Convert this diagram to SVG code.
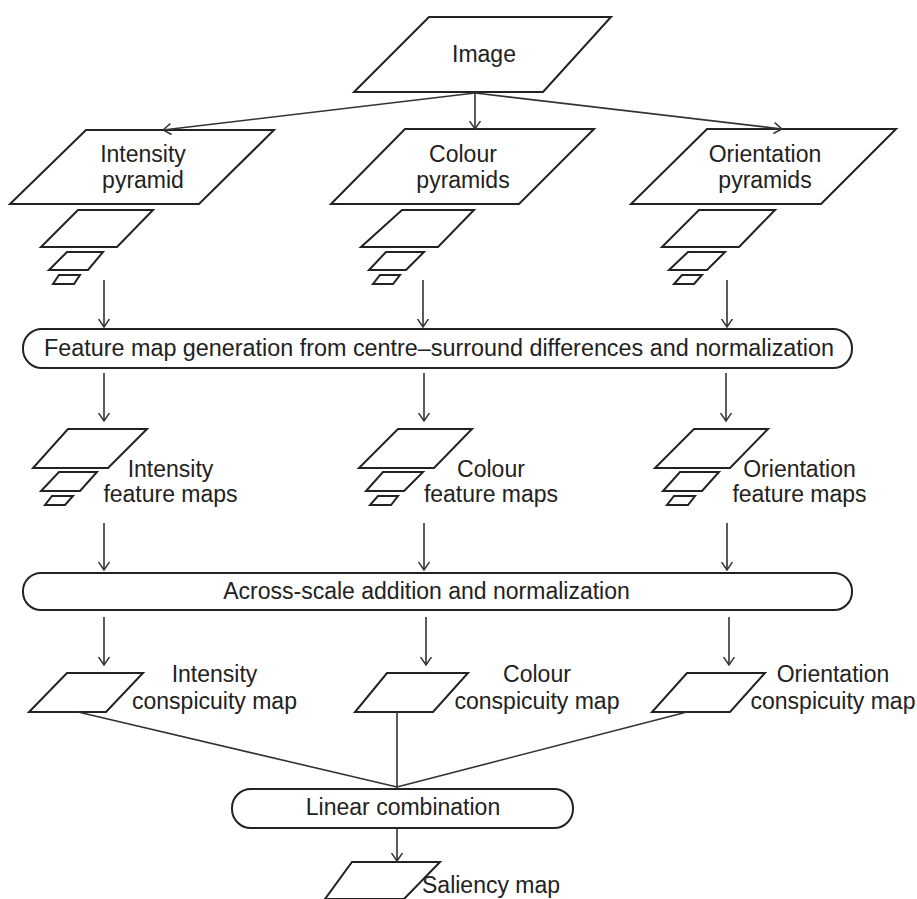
<svg xmlns="http://www.w3.org/2000/svg" width="917" height="899" viewBox="0 0 917 899">
<style>
.shape{fill:none;stroke:#222;stroke-width:2;stroke-linejoin:miter}
.edge{fill:none;stroke:#333;stroke-width:1.6}
.t{font-family:"Liberation Sans",Arial,sans-serif;font-size:23px;fill:#222}
.m{text-anchor:middle}
</style>
<defs>
<marker id="ah" viewBox="0 0 9 12" refX="8.5" refY="6" markerWidth="9" markerHeight="12" markerUnits="userSpaceOnUse" orient="auto">
<path d="M0.5,0.5 L8.5,6 L0.5,11.5" fill="none" stroke="#333" stroke-width="1.5"/>
</marker>
</defs>
<rect width="917" height="899" fill="#fff"/>

<g id="image">
<polygon class="shape" points="429,17 611,17 543,92 354,92"/>
<text class="t m" x="484" y="62">Image</text>
</g>

<g id="intensity-pyramid">
<polygon class="shape" points="86,130 274,130 199,204 10,204"/>
<text class="t m" x="143" y="162">Intensity</text>
<text class="t m" x="143" y="188">pyramid</text>
<polygon class="shape" points="78,210 153,210 117,247 41,247"/>
<polygon class="shape" points="67,252 103,252 88,270 49,270"/>
<polygon class="shape" points="59,275 80,275 74,284 53,284"/>
</g>

<g id="colour-pyramids">
<polygon class="shape" points="405,129 594,129 519,204 331,204"/>
<text class="t m" x="463" y="162">Colour</text>
<text class="t m" x="463" y="188">pyramids</text>
<polygon class="shape" points="402,210 474,210 438,247 361,247"/>
<polygon class="shape" points="386,252 424,252 406,270 369,270"/>
<polygon class="shape" points="380,275 400,275 393,284 373,284"/>
</g>

<g id="orientation-pyramids">
<polygon class="shape" points="707,129 896,129 821,204 631,204"/>
<text class="t m" x="765" y="162">Orientation</text>
<text class="t m" x="765" y="188">pyramids</text>
<polygon class="shape" points="699,210 775,210 739,247 662,247"/>
<polygon class="shape" points="688,252 725,252 707,270 669,270"/>
<polygon class="shape" points="682,275 702,275 694,284 674,284"/>
</g>

<g id="feature-generation">
<rect class="shape" x="23" y="329" width="829" height="39" rx="19" ry="19"/>
<text class="t m" x="439" y="356" textLength="790" lengthAdjust="spacingAndGlyphs">Feature map generation from centre–surround differences and normalization</text>
</g>

<g id="intensity-feature-maps">
<polygon class="shape" points="68,429 147,429 108,468 33,468"/>
<polygon class="shape" points="59,472 97,472 80,491 41,491"/>
<polygon class="shape" points="52,496 73,496 65,505 45,505"/>
<text class="t m" x="170.5" y="477">Intensity</text>
<text class="t m" x="170.5" y="502">feature maps</text>
</g>

<g id="colour-feature-maps">
<polygon class="shape" points="398,429 472,429 434,468 359,468"/>
<polygon class="shape" points="383,472 423,472 404,491 366,491"/>
<polygon class="shape" points="378,496 398,496 391,505 370,505"/>
<text class="t m" x="491" y="477">Colour</text>
<text class="t m" x="491" y="502">feature maps</text>
</g>

<g id="orientation-feature-maps">
<polygon class="shape" points="694,429 768,429 730,468 655,468"/>
<polygon class="shape" points="680,472 719,472 702,491 663,491"/>
<polygon class="shape" points="674,496 695,496 688,505 667,505"/>
<text class="t m" x="799.5" y="477">Orientation</text>
<text class="t m" x="799.5" y="502">feature maps</text>
</g>

<g id="across-scale">
<rect class="shape" x="23" y="573" width="829" height="37" rx="18" ry="18"/>
<text class="t m" x="426.5" y="599">Across-scale addition and normalization</text>
</g>

<g id="intensity-conspicuity">
<polygon class="shape" points="67,673 143,673 106,712 29,712"/>
<text class="t m" x="214.5" y="682">Intensity</text>
<text class="t m" x="214.5" y="709">conspicuity map</text>
</g>

<g id="colour-conspicuity">
<polygon class="shape" points="387,673 468,673 433,712 355,712"/>
<text class="t m" x="537" y="682">Colour</text>
<text class="t m" x="537" y="709">conspicuity map</text>
</g>

<g id="orientation-conspicuity">
<polygon class="shape" points="687,673 765,673 730,712 652,712"/>
<text class="t m" x="833" y="682">Orientation</text>
<text class="t m" x="833" y="709">conspicuity map</text>
</g>

<g id="linear-combination">
<rect class="shape" x="232" y="789" width="341" height="39" rx="19" ry="19"/>
<text class="t m" x="403" y="815">Linear combination</text>
</g>

<g id="saliency-map">
<polygon class="shape" points="352,862 440,862 404,899 325,899"/>
<text class="t" x="422" y="893">Saliency map</text>
</g>

<g id="connectors">
<line class="edge" x1="475" y1="93" x2="163" y2="130" marker-end="url(#ah)"/>
<line class="edge" x1="475" y1="93" x2="475" y2="129" marker-end="url(#ah)"/>
<line class="edge" x1="475" y1="93" x2="782" y2="129" marker-end="url(#ah)"/>

<line class="edge" x1="104" y1="280" x2="104" y2="327" marker-end="url(#ah)"/>
<line class="edge" x1="423" y1="280" x2="423" y2="327" marker-end="url(#ah)"/>
<line class="edge" x1="727" y1="280" x2="727" y2="327" marker-end="url(#ah)"/>

<line class="edge" x1="104" y1="373" x2="104" y2="421" marker-end="url(#ah)"/>
<line class="edge" x1="424" y1="373" x2="424" y2="421" marker-end="url(#ah)"/>
<line class="edge" x1="726" y1="373" x2="726" y2="421" marker-end="url(#ah)"/>

<line class="edge" x1="104" y1="523" x2="104" y2="570" marker-end="url(#ah)"/>
<line class="edge" x1="424" y1="523" x2="424" y2="570" marker-end="url(#ah)"/>
<line class="edge" x1="727" y1="523" x2="727" y2="570" marker-end="url(#ah)"/>

<line class="edge" x1="104" y1="617" x2="104" y2="665" marker-end="url(#ah)"/>
<line class="edge" x1="426" y1="617" x2="426" y2="665" marker-end="url(#ah)"/>
<line class="edge" x1="729" y1="617" x2="729" y2="665" marker-end="url(#ah)"/>

<line class="edge" x1="78" y1="712" x2="397" y2="787"/>
<line class="edge" x1="397" y1="712" x2="397" y2="789"/>
<line class="edge" x1="687" y1="712" x2="397" y2="787"/>

<line class="edge" x1="397" y1="828" x2="397" y2="861" marker-end="url(#ah)"/>
</g>
</svg>
